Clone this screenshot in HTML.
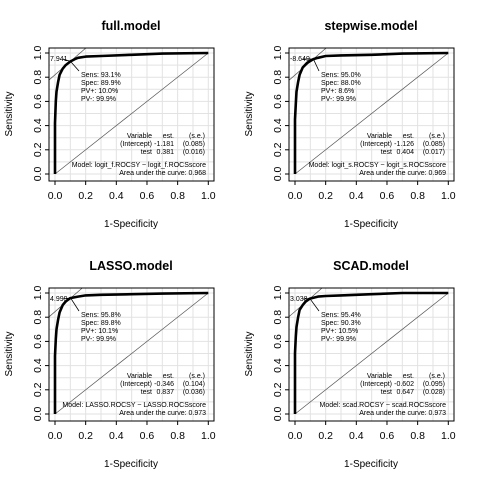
<!DOCTYPE html>
<html><head><meta charset="utf-8"><style>
html,body{margin:0;padding:0;background:#fff;}
svg{display:block;font-family:"Liberation Sans",Arial,sans-serif;}
</style></head><body>
<svg id="c" width="480" height="480" viewBox="0 0 480 480"></svg>
<script>
const titles=["full.model","stepwise.model","LASSO.model","SCAD.model"];
const fprFull=[0,0,0.005,0.01,0.02,0.03,0.05,0.07,0.1,0.13,0.15,0.2,0.3,0.5,0.7,1];
const tprFull=[0,0.42,0.6,0.68,0.76,0.82,0.87,0.9,0.93,0.95,0.96,0.97,0.975,0.985,0.995,1];
const fprStep=[0,0,0.005,0.01,0.02,0.03,0.05,0.08,0.12,0.15,0.2,0.3,0.5,0.7,1];
const tprStep=[0,0.45,0.58,0.68,0.76,0.82,0.88,0.92,0.95,0.96,0.975,0.98,0.985,0.995,1];
const fprLasso=[0,0,0.005,0.01,0.02,0.03,0.05,0.07,0.1,0.15,0.2,0.3,0.5,0.7,1];
const tprLasso=[0,0.48,0.62,0.7,0.78,0.84,0.9,0.93,0.958,0.97,0.98,0.985,0.99,0.995,1];
const fprScad=[0,0,0.005,0.01,0.02,0.03,0.05,0.07,0.097,0.15,0.2,0.3,0.5,0.7,1];
const tprScad=[0,0.5,0.64,0.72,0.8,0.86,0.9,0.93,0.954,0.97,0.975,0.98,0.99,1,1];
const optX=[0.101,0.12,0.102,0.097];
const optY=[0.931,0.95,0.958,0.954];
const cutLabels=["7.941","-8.649","4.999","3.038"];
const sens=["93.1%","95.0%","95.8%","95.4%"];
const spec=["89.9%","88.0%","89.8%","90.3%"];
const ppv=["10.0%","8.6%","10.1%","10.5%"];
const npv=["99.9%","99.9%","99.9%","99.9%"];
const intEst=["-1.181","-1.126","-0.346","-0.602"];
const intSe=["(0.085)","(0.085)","(0.104)","(0.095)"];
const testEst=["0.381","0.404","0.837","0.647"];
const testSe=["(0.016)","(0.017)","(0.036)","(0.028)"];
const models=["Model:  logit_f.ROCSY ~ logit_f.ROCSscore","Model:  logit_s.ROCSY ~ logit_s.ROCSscore","Model:  LASSO.ROCSY ~ LASSO.ROCSscore","Model:  scad.ROCSY ~ scad.ROCSscore"];
const aucs=["0.968","0.969","0.973","0.973"];
const xTicks=[0,0.2,0.4,0.6,0.8,1];
const xTickLabels=["0.0","0.2","0.4","0.6","0.8","1.0"];
const yTicks=[0,0.2,0.4,0.6,0.8,1];
const yTickLabels=["0.0","0.2","0.4","0.6","0.8","1.0"];
const FPR=[fprFull,fprStep,fprLasso,fprScad], TPR=[tprFull,tprStep,tprLasso,tprScad];
const NS="http://www.w3.org/2000/svg";
const svg=document.getElementById('c');
function mk(t,a,p){const e=document.createElementNS(NS,t);for(const k in a)e.setAttribute(k,a[k]);(p||svg).appendChild(e);return e;}
function txt(p,x,y,s,size,anchor,extra){const e=mk('text',Object.assign({x:x,y:y,'font-size':size,'text-anchor':anchor||'start',fill:'#000'},extra||{}),p);e.textContent=s;return e;}
const BX0=49,BX1=214,BY0=48,BY1=181;
const sx=v=>55+v*(208.3-55), sy=v=>174-v*(174-53);
const offs=[[0,0],[240,0],[0,240],[240,240]];
for(let i=0;i<4;i++){
  const g=mk('g',{transform:`translate(${offs[i][0]},${offs[i][1]})`});
  
  
  const cid='clip'+i;
  const cp=mk('clipPath',{id:cid},g);mk('rect',{x:BX0,y:BY0,width:BX1-BX0,height:BY1-BY0},cp);
  const t=txt(g,131,30,titles[i],12.5,'middle',{'font-weight':'bold'});
  
  for(let k=0;k<=10;k++){
    const v=k/10;
    const gx=mk('line',{x1:sx(v),x2:sx(v),y1:BY0,y2:BY1,stroke:'#e2e2e2','stroke-width':1},g);
    
    const gy=mk('line',{x1:BX0,x2:BX1,y1:sy(v),y2:sy(v),stroke:'#e2e2e2','stroke-width':1},g);
    
  }
  const dg=mk('line',{x1:sx(0),y1:sy(0),x2:sx(1),y2:sy(1),stroke:'#555','stroke-width':0.7},g);
  
  const ox=optX[i],oy=optY[i],sl=1.1;
  const tg=mk('line',{x1:sx(-0.1),y1:sy(oy+sl*(-0.1-ox)),x2:sx(0.3),y2:sy(oy+sl*(0.3-ox)),stroke:'#555','stroke-width':0.7,'clip-path':`url(#${cid})`},g);
  
  const pts=FPR[i].map((f,j)=>sx(f).toFixed(1)+','+sy(TPR[i][j]).toFixed(1)).join(' ');
  const cv=mk('polyline',{points:pts,fill:'none',stroke:'#000','stroke-width':2.6,'stroke-linejoin':'round'},g);
  
  const bx=mk('rect',{x:BX0,y:BY0,width:BX1-BX0,height:BY1-BY0,fill:'none',stroke:'#000','stroke-width':1},g);
  
  // axes ticks
  xTicks.forEach((v,k)=>{mk('line',{x1:sx(v),x2:sx(v),y1:BY1,y2:BY1+4,stroke:'#000'},g);
    const l=txt(g,sx(v),BY1+18,xTickLabels[k],10.5,'middle');});
  yTicks.forEach((v,k)=>{mk('line',{x1:BX0,x2:BX0-4,y1:sy(v),y2:sy(v),stroke:'#000'},g);
    const l=txt(g,0,0,yTickLabels[k],10.5,'middle',{transform:`translate(${BX0-8},${sy(v)}) rotate(-90)`});});
  const xt=txt(g,131,227,'1-Specificity',10,'middle');
  const yt=txt(g,0,0,'Sensitivity',10,'middle',{transform:'translate(12,114) rotate(-90)'});
  // annotations
  mk('line',{x1:sx(ox),y1:sy(oy),x2:79,y2:71,stroke:'#000','stroke-width':0.8},g);
  mk('line',{x1:sx(ox),y1:sy(oy),x2:63,y2:59,stroke:'#000','stroke-width':0.8},g);
  const cl=txt(g,50,61,cutLabels[i],7);
  const st=[ 'Sens: '+sens[i],'Spec: '+spec[i],'PV+: '+ppv[i],'PV-: '+npv[i]];
  st.forEach((s,k)=>{const e=txt(g,81,77+k*8,s,7);});
  const rows=[["Variable","est.","(s.e.)"],["(Intercept)",intEst[i],intSe[i]],["test",testEst[i],testSe[i]]];
  rows.forEach((r,k)=>{const y=138+k*8;
    txt(g,152,y,r[0],7,'end');txt(g,174,y,r[1],7,'end');txt(g,205,y,r[2],7,'end');});
  const m=txt(g,206,167,models[i],7,'end');
  const a=txt(g,206,175,'Area under the curve: '+aucs[i],7,'end');
}
</script>
</body></html>
